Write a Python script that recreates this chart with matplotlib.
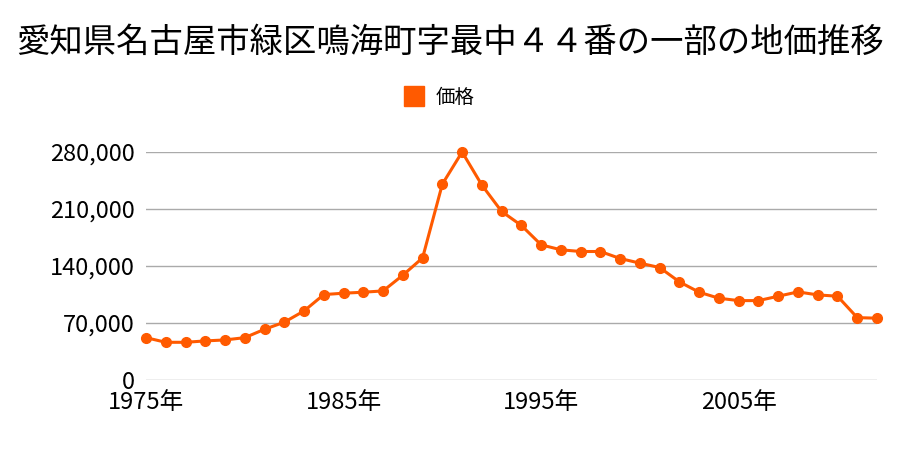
import matplotlib.pyplot as plt
from matplotlib.ticker import FuncFormatter

plt.rcParams['font.family'] = ['Noto Sans CJK JP', 'DejaVu Sans']

title = '愛知県名古屋市緑区鳴海町字最中４４番の一部の地価推移'
label = '価格'

years = list(range(1975, 2013))
prices = [52000, 46300, 46300, 48000, 49200, 52000, 62300, 71000, 84800, 104900,
          106600, 107800, 109400, 128700, 150000, 240600, 280000, 239400, 207000, 189800,
          166000, 159900, 157800, 157800, 149200, 143500, 138100, 120500, 107800, 100400,
          97500, 97500, 102900, 108200, 104500, 102900, 76600, 75900]

yticks = [0, 70000, 140000, 210000, 280000]
xticks = [1975, 1985, 1995, 2005]
xticklabels = ['1975年', '1985年', '1995年', '2005年']

color = '#ff5a00'

fig = plt.figure(figsize=(9, 4.5), dpi=100)
ax = fig.add_axes([146/900, 1-380/450, (877-146)/900, (380-152)/450])

ax.plot(years, prices, color=color, lw=2.2, marker='o', ms=7, clip_on=False, zorder=3, label=label)

ax.set_xlim(1975, 2012)
ax.set_ylim(0, 280000)
ax.set_yticks(yticks)
ax.yaxis.set_major_formatter(FuncFormatter(lambda v, p: f'{int(v):,}'))
ax.set_xticks(xticks)
ax.set_xticklabels(xticklabels)
ax.tick_params(length=0, labelsize=17)
ax.tick_params(axis='y', pad=8)
ax.tick_params(axis='x', pad=8)
ax.grid(axis='y', color='#aaaaaa', lw=1)
ax.set_axisbelow(True)
for s in ax.spines.values():
    s.set_visible(False)

fig.suptitle(title, y=1-42/450, va='center', fontsize=24)

# legend: square marker + label
leg = fig.legend(handles=[plt.Line2D([], [], color=color, marker='s', ls='', ms=15)],
                 labels=[label], loc='center', bbox_to_anchor=(0.487, 1-97/450),
                 frameon=False, fontsize=14, handletextpad=0.5, handlelength=1.2)

fig.savefig('out.png', dpi=100)
